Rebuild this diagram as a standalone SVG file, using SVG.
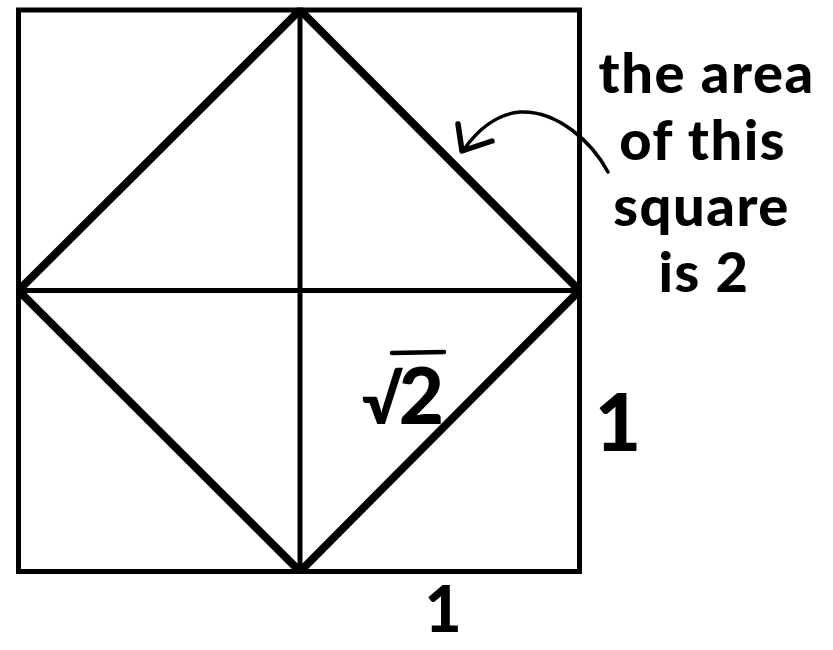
<svg xmlns="http://www.w3.org/2000/svg" width="833" height="650" viewBox="0 0 833 650">
<style>
.thin{fill:none;stroke:#000;stroke-width:5}
.thick{fill:none;stroke:#000;stroke-width:8;stroke-linejoin:miter}
.lbl{font-family:Lato,"Open Sans",sans-serif;font-weight:900;fill:#000}
.arr{fill:none;stroke:#000;stroke-linecap:round;stroke-linejoin:round}
</style>
<defs>
<clipPath id="sq"><rect x="16" y="7.5" width="566" height="566.5"/></clipPath>
</defs>
<rect width="833" height="650" fill="#fff"/>
<g id="square">
<rect class="thin" x="18.5" y="10" width="561" height="561.5"/>
</g>
<g id="cross">
<line class="thin" x1="300" y1="10" x2="300" y2="571.5"/>
<line class="thin" x1="18.5" y1="290.5" x2="579.5" y2="290.5"/>
</g>
<g id="diamond" clip-path="url(#sq)">
<polygon class="thick" points="300,10 579.5,290.5 300,571.5 18.5,290.5"/>
</g>
<g id="connectors">
<path class="arr" stroke-width="3.5" d="M608,172 C592,142 557,110 520,112 C497,114 478,130 465,148"/>
<path class="arr" stroke-width="5.5" d="M458,124 L462,151 L492,141"/>
</g>
<g id="note">
<text class="lbl" font-size="56" letter-spacing="1.5" text-anchor="middle">
<tspan x="714" y="93">the area</tspan>
<tspan x="710" y="160">of this</tspan>
<tspan x="709" y="226">square</tspan>
<tspan x="704" y="292">is 2</tspan>
</text>
</g>
<g id="sqrt2">
<text class="lbl" x="362" y="424" font-size="66">√<tspan font-size="78" dx="-4">2</tspan></text>
<line x1="392" y1="353" x2="444" y2="352" stroke="#000" stroke-width="4.5" stroke-linecap="round"/>
</g>
<g id="one-right">
<text class="lbl" x="618" y="451" font-size="80" text-anchor="middle">1</text>
</g>
<g id="one-bottom">
<text class="lbl" x="443" y="632" font-size="64" text-anchor="middle">1</text>
</g>
</svg>
